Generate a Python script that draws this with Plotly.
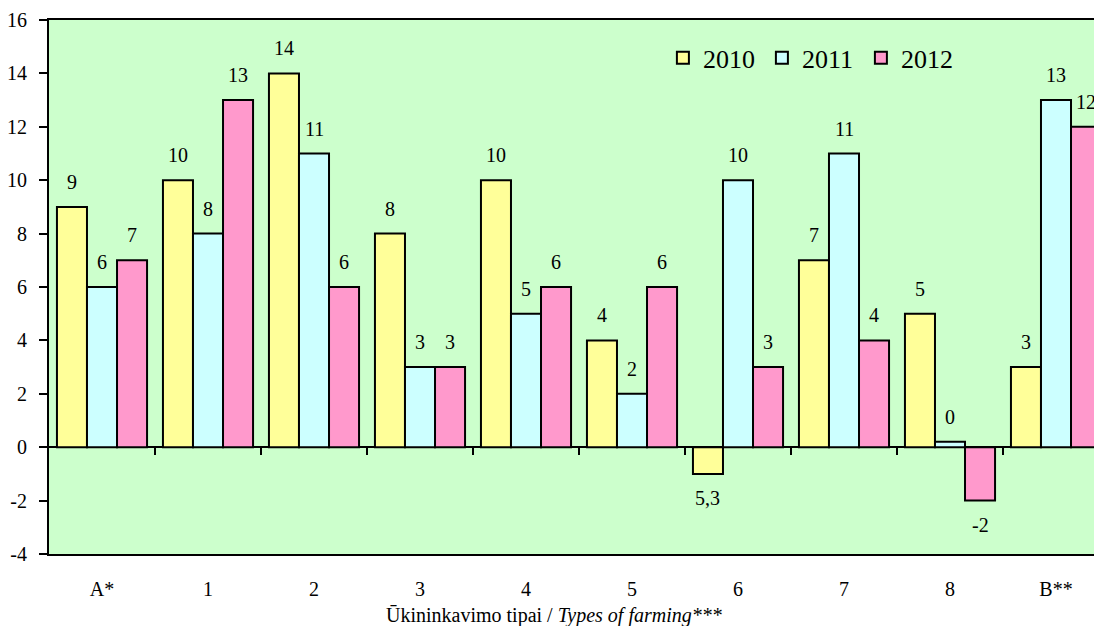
import plotly.graph_objects as go

# data
categories = ['A*', '1', '2', '3', '4', '5', '6', '7', '8', 'B**']
years = ['2010', '2011', '2012']
values_2010 = [9, 10, 14, 8, 10, 4, -1, 7, 5, 3]
values_2011 = [6, 8, 11, 3, 5, 2, 10, 11, 0.2, 13]
values_2012 = [7, 13, 6, 3, 6, 6, 3, 4, -2, 12]
labels_2010 = ['9', '10', '14', '8', '10', '4', '5,3', '7', '5', '3']
labels_2011 = ['6', '8', '11', '3', '5', '2', '10', '11', '0', '13']
labels_2012 = ['7', '13', '6', '3', '6', '6', '3', '4', '-2', '12']
y_ticks = [-4, -2, 0, 2, 4, 6, 8, 10, 12, 14, 16]

series = [values_2010, values_2011, values_2012]
labels = [labels_2010, labels_2011, labels_2012]
colors = ['#FFFF99', '#CCFFFF', '#FF99CC']
font = 'Liberation Serif'

# page body has an 8px margin, so the figure is sized to fit the 1102x626 window
W, H = 1094, 618
margin = dict(l=41, r=0, t=12, b=72)
x_range = [-0.5, 9.434]
bargap = 0.15

plot_h = H - margin['t'] - margin['b']
cat_px = (W - margin['l'] - margin['r']) / (x_range[1] - x_range[0])
bar_px = cat_px * (1 - bargap) / len(series)

fig = go.Figure()
for j, (year, vals) in enumerate(zip(years, series)):
    fig.add_trace(go.Bar(x=categories, y=vals, name=year, marker_color=colors[j],
                         marker_line=dict(color='black', width=2)))

annotations = []
for j, (vals, labs) in enumerate(zip(series, labels)):
    for cat, v, t in zip(categories, vals, labs):
        annotations.append(dict(x=cat, y=v, xref='x', yref='y', text=t, showarrow=False,
                                xshift=(j - 1) * bar_px, yshift=25 if v >= 0 else -24,
                                font=dict(family=font, size=20, color='black')))

# axis title, centred a bit left of the plot centre as in the original
annotations.append(dict(x=0.48, y=-(607 - (H - margin['b'])) / plot_h, xref='paper', yref='paper',
                        yanchor='middle', showarrow=False,
                        text='Ūkininkavimo tipai / <i>Types of farming***</i>',
                        font=dict(family=font, size=20, color='black')))

fig.update_layout(
    width=W, height=H, margin=margin,
    barmode='group', bargap=bargap, bargroupgap=0,
    plot_bgcolor='#CCFFCC', paper_bgcolor='white',
    font=dict(family=font, size=20, color='black'),
    showlegend=True,
    legend=dict(orientation='h', x=0.583, y=0.929, xanchor='left', yanchor='middle',
                font=dict(family=font, size=26, color='black'), bgcolor='rgba(0,0,0,0)',
                entrywidth=54, itemwidth=30),
    annotations=annotations,
)
fig.update_xaxes(type='category', range=x_range, showline=True, linecolor='black', linewidth=2,
                 mirror=True, ticks='', showgrid=False, ticklabelstandoff=16,
                 tickfont=dict(family=font, size=20))
fig.update_yaxes(range=[y_ticks[0], y_ticks[-1]], tickvals=y_ticks, ticktext=[str(t) for t in y_ticks],
                 showline=True, linecolor='black',
                 linewidth=2, ticks='outside', ticklen=8, tickwidth=2, tickcolor='black',
                 showgrid=False, zeroline=True, zerolinecolor='black', zerolinewidth=2,
                 ticklabelstandoff=8, tickfont=dict(family=font, size=20))

# tick marks between categories along the zero line
zero_pos = (0 - y_ticks[0]) / (y_ticks[-1] - y_ticks[0])
fig.update_layout(xaxis2=dict(overlaying='x', anchor='free', position=zero_pos, side='bottom',
                              range=x_range, tickvals=[i + 0.5 for i in range(len(categories) - 1)],
                              ticks='outside', ticklen=7, tickwidth=2, tickcolor='black',
                              showticklabels=False, showline=False, showgrid=False, zeroline=False))
fig.add_trace(go.Scatter(x=[None], y=[None], xaxis='x2', showlegend=False, hoverinfo='skip'))

fig.write_html("out.html")
